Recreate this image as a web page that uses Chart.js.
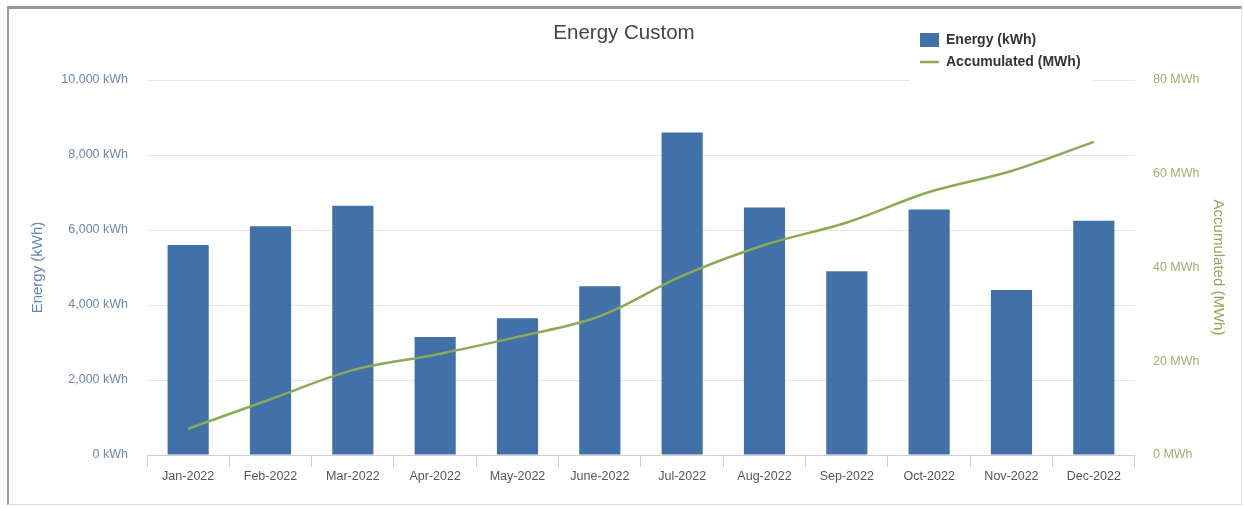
<!DOCTYPE html>
<html>
<head>
<meta charset="utf-8">
<title>Energy Custom</title>
<script src="https://cdn.jsdelivr.net/npm/chart.js@4.4.1/dist/chart.umd.min.js"></script>
<style>
  html, body { margin: 0; padding: 0; background: #fff; }
  #wrap { position: relative; width: 1244px; height: 508px; }
  #frame {
    position: absolute; left: 7px; top: 6px; width: 1235px; height: 499px;
    box-sizing: border-box; pointer-events: none;
    border-top: 3px solid #9a9a9a; border-left: 2px solid #9a9a9a;
    border-right: 1px solid #e6e6e6; border-bottom: 1px solid #dcdcdc;
  }
</style>
</head>
<body>
<div id="wrap">
  <canvas id="chart" width="1244" height="508"></canvas>
  <div id="frame"></div>
</div>
<script>
const months = ['Jan-2022', 'Feb-2022', 'Mar-2022', 'Apr-2022', 'May-2022', 'June-2022',
                'Jul-2022', 'Aug-2022', 'Sep-2022', 'Oct-2022', 'Nov-2022', 'Dec-2022'];

// monthly energy, kWh
const energy = [5600, 6100, 6650, 3150, 3650, 4500, 8600, 6600, 4900, 6550, 4400, 6250];

// running total, MWh
const accumulated = [5.6, 11.9, 18.1, 21.4, 25.2, 29.6, 38.2, 44.8, 49.6, 56.1, 60.6, 66.8];

const kwhTicks = [0, 2000, 4000, 6000, 8000, 10000];
const mwhTicks = [0, 20, 40, 60, 80];

const fontFamily = '"Liberation Sans", Arial, sans-serif';

// put the legend in the top right corner, with a white box behind it
const legendCorner = {
    id: 'legendCorner',
    afterLayout(chart) {
        const lg = chart.legend;
        lg.left = 912;
        lg.top = 25;
        lg.right = 1100;
        lg.bottom = 100;
        lg.width = lg.right - lg.left;
        lg.height = lg.bottom - lg.top;
    },
    beforeDatasetsDraw(chart) {
        const ctx = chart.ctx;
        ctx.save();
        ctx.fillStyle = '#fff';
        ctx.fillRect(910, 25, 182, 60);
        ctx.restore();
        chart.legend.draw();
    }
};

const ctx = document.querySelector('#chart').getContext('2d');

new Chart(ctx, {
    data: {
        labels: months,
        datasets: [
            {
                type: 'bar',
                label: 'Energy (kWh)',
                data: energy,
                yAxisID: 'y',
                backgroundColor: '#4270a8',
                borderWidth: 0,
                categoryPercentage: 0.5,
                barPercentage: 1,
                order: 1
            },
            {
                type: 'line',
                label: 'Accumulated (MWh)',
                data: accumulated,
                yAxisID: 'y1',
                borderColor: '#8aaa55',
                backgroundColor: '#8aaa55',
                borderWidth: 2.5,
                pointRadius: 0,
                tension: 0.35,
                order: 0
            }
        ]
    },
    options: {
        responsive: false,
        animation: false,
        layout: {
            padding: { left: 10, right: 6, top: 0, bottom: 22 }
        },
        plugins: {
            tooltip: { enabled: false },
            title: {
                display: true,
                text: 'Energy Custom',
                color: '#444',
                font: { family: fontFamily, size: 20.5, weight: 'normal' },
                padding: { top: 21, bottom: 34.4 }
            },
            legend: {
                position: 'chartArea',
                align: 'start',
                labels: {
                    color: '#333',
                    font: { family: fontFamily, size: 14, weight: 'bold' },
                    usePointStyle: true,
                    pointStyleWidth: 19,
                    boxHeight: 14,
                    padding: 8,
                    sort: (a, b) => a.datasetIndex - b.datasetIndex,
                    generateLabels(chart) {
                        const items = Chart.defaults.plugins.legend.labels.generateLabels(chart);
                        items.forEach(function (item) {
                            if (item.datasetIndex === 0) {
                                item.pointStyle = 'rect';
                                item.lineWidth = 0;
                            } else {
                                item.pointStyle = 'line';
                                item.lineWidth = 2.5;
                            }
                        });
                        return items;
                    }
                }
            }
        },
        scales: {
            x: {
                grid: {
                    drawOnChartArea: false,
                    drawTicks: true,
                    tickLength: 12,
                    color: '#cfcfcf'
                },
                border: { color: '#cfcfcf' },
                ticks: {
                    color: '#555',
                    padding: 2,
                    maxRotation: 0,
                    font: { family: fontFamily, size: 12.5 }
                }
            },
            y: {
                position: 'left',
                min: 0,
                max: 10000,
                afterBuildTicks(scale) {
                    scale.ticks = kwhTicks.map(v => ({ value: v }));
                },
                grid: { color: '#e6e6e6', tickLength: 17, tickColor: 'rgba(0,0,0,0)' },
                border: { display: false },
                ticks: {
                    color: '#6a88ab',
                    padding: 2,
                    font: { family: fontFamily, size: 12.5 },
                    callback: v => v.toLocaleString('en-US') + ' kWh'
                },
                title: {
                    display: true,
                    text: 'Energy (kWh)',
                    color: '#5d86ba',
                    font: { family: fontFamily, size: 15 },
                    padding: { top: 19, bottom: 12.3 }
                }
            },
            y1: {
                position: 'right',
                min: 0,
                max: 80,
                afterBuildTicks(scale) {
                    scale.ticks = mwhTicks.map(v => ({ value: v }));
                },
                grid: { drawOnChartArea: false, tickLength: 16, tickColor: 'rgba(0,0,0,0)' },
                border: { display: false },
                ticks: {
                    color: '#a2ad70',
                    padding: 2,
                    font: { family: fontFamily, size: 12.5 },
                    callback: v => v + ' MWh'
                },
                title: {
                    display: true,
                    text: 'Accumulated (MWh)',
                    color: '#93a65a',
                    font: { family: fontFamily, size: 15 },
                    padding: { top: 11, bottom: 7.5 }
                }
            }
        }
    },
    plugins: [legendCorner]
});
</script>
</body>
</html>
